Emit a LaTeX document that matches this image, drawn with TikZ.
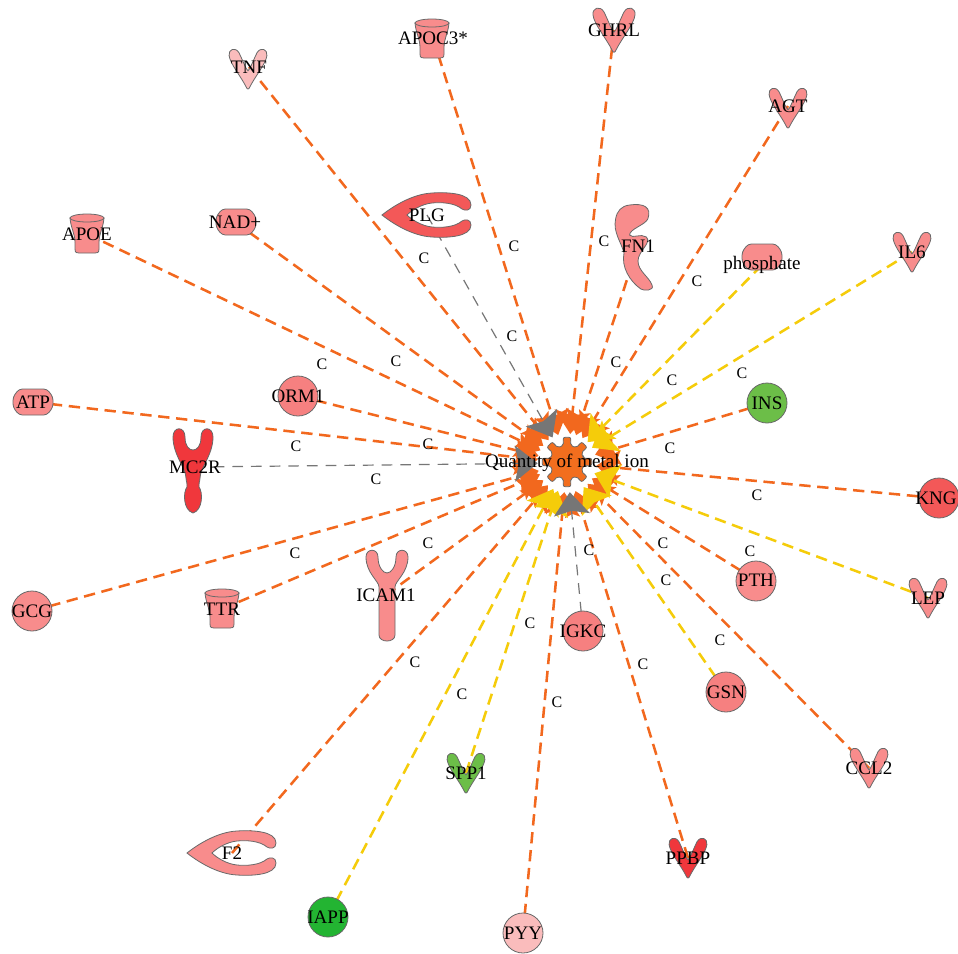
\documentclass[tikz,border=0pt]{standalone}
\usepackage{fontspec}
\setmainfont{Liberation Serif}
\usepackage{tikz}
\usetikzlibrary{calc}
\usetikzlibrary{arrows.meta}
\usetikzlibrary{backgrounds}

\definecolor{edgeorange}{RGB}{242,104,30}
\definecolor{edgeyellow}{RGB}{245,204,10}
\definecolor{edgegray}{RGB}{118,118,118}
\definecolor{molline}{RGB}{105,105,105}
\definecolor{gearorange}{RGB}{242,110,30}
\definecolor{pinklight}{RGB}{250,188,188}
\definecolor{pinkmid}{RGB}{248,140,140}
\definecolor{pinkdeep}{RGB}{246,128,128}
\definecolor{redmid}{RGB}{243,88,88}
\definecolor{reddeep}{RGB}{240,55,60}
\definecolor{greenmid}{RGB}{108,190,72}
\definecolor{greendeep}{RGB}{35,180,50}

\tikzset{
  mol/.style={draw=molline,line width=0.6pt},
  molname/.style={font=\fontsize{14.3}{15}\selectfont,inner sep=0pt},
  edgelab/.style={font=\fontsize{12}{13}\selectfont,inner sep=0pt},
  rel/.style={line width=1.9pt,dash pattern=on 8.5pt off 5pt,
    -{Stealth[width=27pt,length=17pt,inset=3pt]}},
  relorange/.style={rel,draw=edgeorange},
  relyellow/.style={rel,draw=edgeyellow},
  relgray/.style={rel,draw=edgegray,line width=0.9pt,dash pattern=on 8pt off 6pt},
  circmol/.pic={\filldraw[mol] (0,0) circle (20);},
  vmol/.pic={\filldraw[mol] (-2,20) .. controls (-8,8) and (-20,-6) .. (-21,-15)
    .. controls (-22,-22) and (-14,-25) .. (-10,-18) .. controls (-6,-10) and (-2,1) .. (0,2)
    .. controls (2,1) and (6,-10) .. (10,-18) .. controls (14,-25) and (22,-22) .. (21,-15)
    .. controls (20,-6) and (8,8) .. (2,20) .. controls (1,23) and (-1,23) .. (-2,20) -- cycle;},
  cupmol/.pic={\filldraw[mol] (-17,-15) .. controls (-16,-4) and (-12,0) .. (-12,10) -- (-12,16)
    .. controls (-12,20) and (-10,20) .. (-8,20) -- (8,20) .. controls (10,20) and (12,20) .. (12,16)
    -- (12,10) .. controls (12,0) and (16,-4) .. (17,-15) -- cycle;
    \filldraw[mol] (0,-15) ellipse (17 and 4);},
  hexmol/.pic={\filldraw[mol,rounded corners=2.5pt] (-14,-13) -- (14,-13) -- (20,-5) -- (20,5)
    -- (14,13) -- (-14,13) -- (-20,5) -- (-20,-5) -- cycle;},
  cmol/.pic={\filldraw[mol] (44,-10) .. controls (44,-22) and (20,-23) .. (5,-22)
    .. controls (-15,-21) and (-35,-8) .. (-45,0) .. controls (-35,8) and (-15,21) .. (5,22)
    .. controls (20,23) and (44,22) .. (44,10) .. controls (44,4) and (38,4) .. (35,6)
    .. controls (28,12) and (15,13) .. (5,12) .. controls (-5,11) and (-15,5) .. (-20,0)
    .. controls (-15,-5) and (-5,-11) .. (5,-12) .. controls (15,-13) and (28,-12) .. (35,-6)
    .. controls (38,-4) and (44,-4) .. (44,-10) -- cycle;},
  ymol/.pic={\filldraw[mol] (-8,40) -- (-8,-8) .. controls (-8,-14) and (-21,-22) .. (-21,-38)
    .. controls (-21,-47) and (-9,-47) .. (-9,-38) .. controls (-9,-28) and (-4,-22) .. (0,-22)
    .. controls (4,-22) and (9,-28) .. (9,-38) .. controls (9,-47) and (21,-47) .. (21,-38)
    .. controls (21,-22) and (8,-14) .. (8,-8) -- (8,40) .. controls (8,48) and (-8,48) .. (-8,40) -- cycle;},
  mcmol/.pic={\filldraw[mol] (-7,8) .. controls (-7,-2) and (-20,-15) .. (-20,-33)
    .. controls (-20,-44) and (-8,-44) .. (-8,-33) .. controls (-8,-24) and (-4,-20) .. (0,-20)
    .. controls (4,-20) and (8,-24) .. (8,-33) .. controls (8,-44) and (20,-44) .. (20,-33)
    .. controls (20,-15) and (7,-2) .. (7,8) .. controls (7,12) and (5,14) .. (6,17)
    .. controls (10,22) and (10,40) .. (0,43) .. controls (-10,40) and (-10,22) .. (-6,17)
    .. controls (-5,14) and (-7,12) .. (-7,8) -- cycle;},
  fnmol/.pic={\filldraw[mol] (-6,-42) .. controls (4,-44) and (10,-40) .. (7,-28)
    .. controls (5,-22) and (-6,-18) .. (-6,-12) .. controls (-4,-8) and (2,-14) .. (6,-10)
    .. controls (10,-4) and (0,4) .. (0,14) .. controls (0,24) and (8,30) .. (10,38)
    .. controls (12,44) and (4,44) .. (2,42) .. controls (-6,34) and (-12,20) .. (-10,6)
    .. controls (-12,-5) and (-18,-15) .. (-16,-28) .. controls (-15,-36) and (-12,-41) .. (-6,-42) -- cycle;}
}

\begin{document}
\begin{tikzpicture}[x=0.75pt,y=-0.75pt]
  \useasboundingbox (0,0) rectangle (958,954);

  % molecules
  \pic[fill=pinklight,scale=0.9] at (248,69) {vmol};
  \node[molname] (TNF) at (249,67) {TNF};
  \pic[fill=pinkmid] at (432,38) {cupmol};
  \node[molname] (APOC3) at (433,38) {APOC3*};
  \pic[fill=pinkmid] at (614,30) {vmol};
  \node[molname] (GHRL) at (614,30) {GHRL};
  \pic[fill=pinkmid,scale=0.9] at (788,108) {vmol};
  \node[molname] (AGT) at (788,106) {AGT};
  \pic[fill=pinkmid] at (87,233) {cupmol};
  \node[molname] (APOE) at (87,234) {APOE};
  \pic[fill=pinkmid] at (236,222) {hexmol};
  \node[molname] (NAD) at (235,222) {NAD+};
  \pic[fill=redmid] at (427,215) {cmol};
  \node[molname] (PLG) at (427,215) {PLG};
  \pic[fill=pinkmid,xscale=1.4] at (638,247) {fnmol};
  \node[molname] (FN1) at (638,246) {FN1};
  \pic[fill=pinkmid] at (762,257) {hexmol};
  \node[molname] (PHOS) at (762,265) {phosphate};
  \pic[fill=pinkmid,scale=0.9] at (912,252) {vmol};
  \node[molname] (IL6) at (912,252) {IL6};
  \pic[fill=pinkmid] at (33,402) {hexmol};
  \node[molname] (ATP) at (33,402) {ATP};
  \pic[fill=pinkdeep] at (298,396) {circmol};
  \node[molname] (ORM1) at (298,396) {ORM1};
  \pic[fill=reddeep] at (193,470) {mcmol};
  \node[molname] (MC2R) at (195,467) {MC2R};
  \pic[fill=greenmid] at (767,403) {circmol};
  \node[molname] (INS) at (767,403) {INS};
  \pic[fill=redmid] at (939,498) {circmol};
  \node[molname] (KNG) at (936,498) {KNG};
  \pic[fill=pinkmid] at (32,611) {circmol};
  \node[molname] (GCG) at (32,611) {GCG};
  \pic[fill=pinkmid] at (222,608) {cupmol};
  \node[molname] (TTR) at (222,609) {TTR};
  \pic[fill=pinkmid] at (387,595) {ymol};
  \node[molname] (ICAM1) at (386,595) {ICAM1};
  \pic[fill=pinkdeep] at (583,631) {circmol};
  \node[molname] (IGKC) at (583,631) {IGKC};
  \pic[fill=pinkmid] at (756,581) {circmol};
  \node[molname] (PTH) at (756,580) {PTH};
  \pic[fill=pinkmid,scale=0.9] at (928,598) {vmol};
  \node[molname] (LEP) at (928,598) {LEP};
  \pic[fill=pinkdeep] at (726,692) {circmol};
  \node[molname] (GSN) at (726,692) {GSN};
  \pic[fill=pinkmid,scale=0.9] at (869,768) {vmol};
  \node[molname] (CCL2) at (869,768) {CCL2};
  \pic[fill=greenmid,scale=0.9] at (466,773) {vmol};
  \node[molname] (SPP1) at (466,773) {SPP1};
  \pic[fill=pinkmid] at (232,853) {cmol};
  \node[molname] (F2) at (232,853) {F2};
  \pic[fill=reddeep,scale=0.9] at (688,858) {vmol};
  \node[molname] (PPBP) at (688,858) {PPBP};
  \pic[fill=greendeep] at (328,917) {circmol};
  \node[molname] (IAPP) at (328,917) {IAPP};
  \pic[fill=pinklight] at (523,933) {circmol};
  \node[molname] (PYY) at (523,933) {PYY};

  % the function in the middle
  \begin{scope}[shift={(567,462)}]
    \filldraw[fill=gearorange,draw=molline,line width=0.6pt,rounded corners=1.5pt] (-12:17)
      \foreach \a in {0,45,...,315} { -- ({\a-12}:17) -- ({\a-9}:25) -- ({\a+9}:25) -- ({\a+12}:17) } -- cycle;
  \end{scope}
  \node[molname] (Q) at (567,463) {Quantity of metal ion};

  % relations
  \begin{scope}[on background layer]
    \fill[white] (0,0) rectangle (958,954);
    \foreach \m in {TNF,APOC3,GHRL,AGT,APOE,NAD,FN1,ATP,ORM1,INS,KNG,GCG,TTR,ICAM1,PTH,CCL2,F2,PPBP,PYY}
      \draw[relorange] (\m.center) -- ($(Q.center)!22pt!(\m.center)$);
    \foreach \m in {PHOS,IL6,LEP,GSN,SPP1,IAPP}
      \draw[relyellow] (\m.center) -- ($(Q.center)!22pt!(\m.center)$);
    \foreach \m in {PLG,MC2R,IGKC}
      \draw[relgray] (\m.center) -- ($(Q.center)!22pt!(\m.center)$);
  \end{scope}

  % edge labels
  \foreach \p [count=\i] in {(424,258),(514,246),(604,241),(697,281),(616,362),(672,380),
      (742,373),(512,336),(396,361),(322,364),(296,446),(428,444),(376,479),(670,448),
      (757,495),(295,553),(428,543),(589,550),(663,543),(750,551),(666,580),(530,623),
      (720,640),(415,662),(643,664),(462,694),(557,702)}
    \node[edgelab] (c\i) at \p {C};
\end{tikzpicture}
\end{document}
